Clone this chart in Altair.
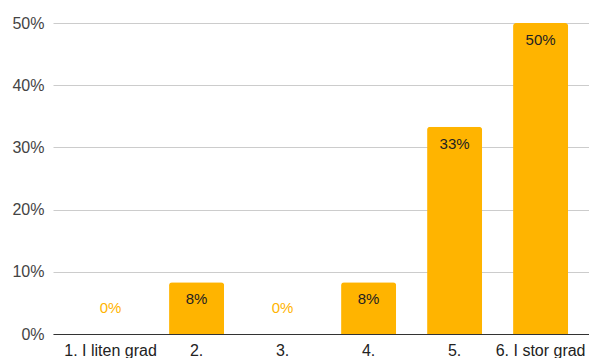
import altair as alt
import pandas as pd

categories = ["1. I liten grad", "2.", "3.", "4.", "5.", "6. I stor grad"]
shares = [0.0, 0.0833, 0.0, 0.0833, 0.3333, 0.5]
labels = ["0%", "8%", "0%", "8%", "33%", "50%"]

df = pd.DataFrame({"cat": categories, "val": shares, "lab": labels})

FONT = "Liberation Sans"
BAR = "#FFB400"

x = alt.X("cat:N", sort=categories, title=None,
          scale=alt.Scale(paddingInner=0.36, paddingOuter=0.296, align=0.59),
          axis=alt.Axis(labelAngle=0, labelFontSize=16, labelColor="#222",
                        labelFont=FONT, ticks=False, domainColor="#333",
                        domainWidth=1, labelPadding=8, grid=False))
y = alt.Y("val:Q", title=None,
          scale=alt.Scale(domain=[0, 0.5], nice=False),
          axis=alt.Axis(format=".0%", values=[0, 0.1, 0.2, 0.3, 0.4, 0.5],
                        labelFontSize=16, labelColor="#444", labelFont=FONT,
                        ticks=False, domain=False, labelPadding=9,
                        gridColor="#cccccc", gridWidth=1))

bars = alt.Chart(df).mark_bar(color=BAR, cornerRadiusTopLeft=3,
                              cornerRadiusTopRight=3).encode(x=x, y=y)

txt = alt.Chart(df).transform_filter("datum.val > 0").mark_text(
    baseline="middle", dy=17, fontSize=15, font=FONT, color="#222"
).encode(x=x, y=y, text="lab:N")

txt0 = alt.Chart(df).transform_filter("datum.val == 0").mark_text(
    baseline="middle", dy=-26, fontSize=15, font=FONT, color=BAR
).encode(x=x, y=y, text="lab:N")

chart = (bars + txt + txt0).properties(
    width=536, height=311,
    background="white",
    autosize=alt.AutoSizeParams(type="none"),
    padding={"left": 53, "top": 23, "right": 0, "bottom": 24},
).configure_view(stroke=None)

chart.save("out.html", embed_options={"renderer": "svg", "actions": False})
